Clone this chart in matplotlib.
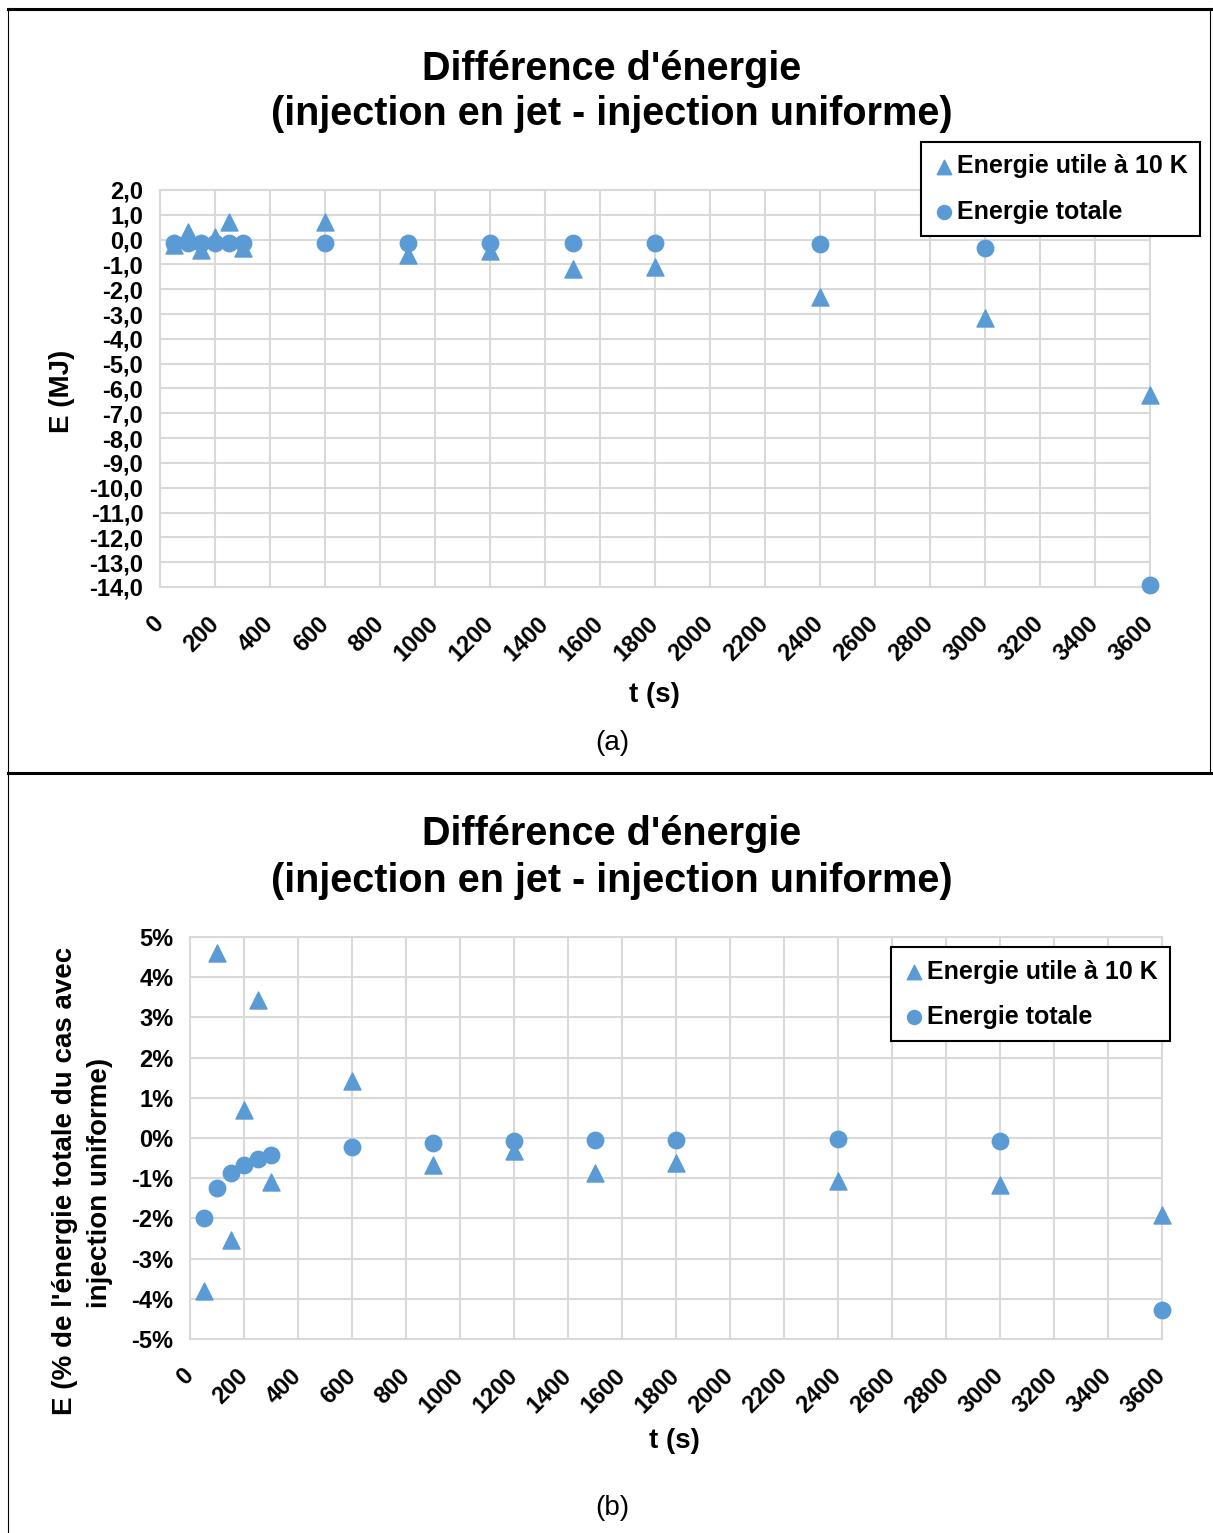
import matplotlib
matplotlib.use('Agg')
import matplotlib.pyplot as plt
from matplotlib.ticker import FuncFormatter, MultipleLocator
from matplotlib.lines import Line2D

plt.rcParams['font.family'] = ['Liberation Sans', 'DejaVu Sans']
plt.rcParams['font.weight'] = 'bold'
plt.rcParams['axes.unicode_minus'] = False

# temps d'injection (s)
t = [50, 100, 150, 200, 250, 300, 600, 900, 1200, 1500, 1800, 2400, 3000, 3600]

# (a) différence d'énergie en MJ
utile_mj = [-0.2, 0.3, -0.4, 0.1, 0.72, -0.34, 0.72, -0.6, -0.45, -1.2, -1.1, -2.32, -3.17, -6.26]
totale_mj = [-0.14, -0.12, -0.15, -0.13, -0.14, -0.15, -0.15, -0.15, -0.15, -0.15, -0.15, -0.16, -0.34, -13.9]

# (b) différence d'énergie en % de l'énergie totale (injection uniforme)
utile_pct = [-3.8, 4.6, -2.54, 0.7, 3.43, -1.1, 1.42, -0.67, -0.32, -0.87, -0.62, -1.07, -1.17, -1.92]
totale_pct = [-1.99, -1.24, -0.87, -0.67, -0.52, -0.42, -0.22, -0.12, -0.08, -0.05, -0.05, -0.02, -0.08, -4.28]

title_1 = "Différence d'énergie"
title_2 = "(injection en jet - injection uniforme)"
label_utile = 'Energie utile à 10 K'
label_totale = 'Energie totale'

BLUE = '#5B9BD5'
GRID = '#D9D9D9'
W, H = 1213, 1533


def fx(x):
    return x / W


def fy(y):
    return 1 - y / H


def fmt_mj(v, pos):
    v = round(v, 1) + 0.0
    return f"{v:.1f}".replace('.', ',')


def fmt_pct(v, pos):
    return f"{int(round(v))}%"


def draw_panel(ax, utile, totale, ylim, ystep, fmt):
    ax.scatter(t, utile, marker='^', s=150, color=BLUE, zorder=3, clip_on=False, label=label_utile)
    ax.scatter(t, totale, marker='o', s=140, color=BLUE, zorder=4, clip_on=False, label=label_totale)
    ax.set_xlim(0, 3600)
    ax.set_ylim(*ylim)
    ax.xaxis.set_major_locator(MultipleLocator(200))
    ax.yaxis.set_major_locator(MultipleLocator(ystep))
    ax.yaxis.set_major_formatter(FuncFormatter(fmt))
    ax.grid(True, color=GRID, linewidth=1.5)
    ax.set_axisbelow(True)
    for s in ax.spines.values():
        s.set_color(GRID)
        s.set_linewidth(1.5)
    ax.tick_params(axis='y', length=0, labelsize=17, pad=12)
    ax.tick_params(axis='x', length=0, labelsize=17, pad=24)
    plt.setp(ax.get_xticklabels(), rotation=45, ha='right', va='center', rotation_mode='anchor')


def add_legend(ax, x, y):
    leg = ax.legend(loc='upper right', bbox_to_anchor=(fx(x), fy(y)), bbox_transform=fig.transFigure,
                    frameon=True, fancybox=False, edgecolor='black', framealpha=1,
                    prop={'size': 18, 'weight': 'bold'}, handletextpad=0.05, handlelength=0.9,
                    borderpad=0.5, labelspacing=0.85, borderaxespad=0, markerscale=0.85)
    leg.get_frame().set_linewidth(1.5)


fig = plt.figure(figsize=(W / 100, H / 100), dpi=100)

# panel (a)
ax1 = fig.add_axes([fx(160), fy(587), fx(1150) - fx(160), fy(190) - fy(587)])
draw_panel(ax1, utile_mj, totale_mj, (-14, 2), 1, fmt_mj)
add_legend(ax1, 1200, 142)
fig.text(fx(612), fy(69), title_1, ha='center', va='center', fontsize=28.5)
fig.text(fx(612), fy(114), title_2, ha='center', va='center', fontsize=28.5)
fig.text(fx(654), fy(695), 't (s)', ha='center', va='center', fontsize=20)
fig.text(fx(62), fy(391), 'E (MJ)', ha='center', va='center', rotation=90, fontsize=20)
fig.text(fx(612), fy(743), '(a)', ha='center', va='center', fontsize=20, fontweight='normal')

# panel (b)
ax2 = fig.add_axes([fx(190), fy(1339), fx(1162) - fx(190), fy(937) - fy(1339)])
draw_panel(ax2, utile_pct, totale_pct, (-5, 5), 1, fmt_pct)
add_legend(ax2, 1170, 947)
fig.text(fx(612), fy(834), title_1, ha='center', va='center', fontsize=28.5)
fig.text(fx(612), fy(881), title_2, ha='center', va='center', fontsize=28.5)
fig.text(fx(674), fy(1441), 't (s)', ha='center', va='center', fontsize=20)
fig.text(fx(65), fy(1181), "E (% de l'énergie totale du cas avec", ha='center', va='center',
         rotation=90, fontsize=20)
fig.text(fx(100), fy(1183), 'injection uniforme)', ha='center', va='center', rotation=90, fontsize=20)
fig.text(fx(612), fy(1508), '(b)', ha='center', va='center', fontsize=20, fontweight='normal')

# cadres autour des deux figures
fig.add_artist(Line2D([fx(8), fx(1213)], [fy(9), fy(9)], color='black', linewidth=2.2))
fig.add_artist(Line2D([fx(8), fx(1213)], [fy(773), fy(773)], color='black', linewidth=2.2))
fig.add_artist(Line2D([fx(8), fx(8)], [fy(8), fy(1533)], color='black', linewidth=0.8))
fig.add_artist(Line2D([fx(1210), fx(1210)], [fy(8), fy(773)], color='black', linewidth=0.8))

fig.savefig('out.png', dpi=100)
